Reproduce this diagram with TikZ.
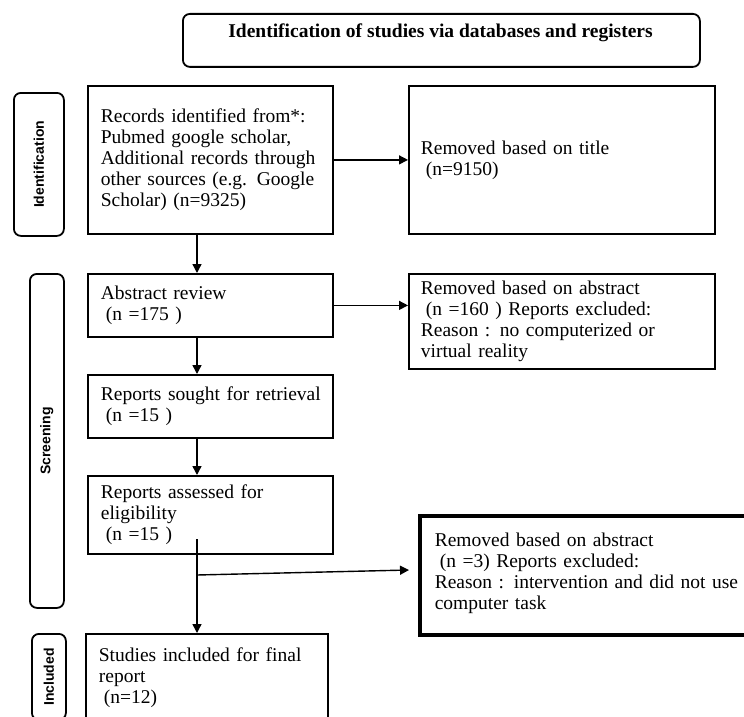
\documentclass[tikz,border=0pt]{standalone}
\usepackage{fontspec}
\setmainfont{Liberation Serif}
\setsansfont{Liberation Sans}
\usetikzlibrary{arrows.meta}

\begin{document}
\begin{tikzpicture}[x=1pt,y=-1pt,
		box/.style={draw, line width=1.8pt, anchor=north west, inner xsep=13pt, inner ysep=0pt, align=left, font=\fontsize{19.5}{21}\selectfont},
		stage/.style={draw, line width=1.8pt, rounded corners=7pt, anchor=north west, inner sep=0pt, font=\sffamily\bfseries\fontsize{14}{16}\selectfont},
		arr/.style={line width=1.4pt, -{Triangle[length=9pt,width=9pt]}}]
				\useasboundingbox (0,0) rectangle (744,717);
				% heading
				\node[stage, minimum width=517pt, minimum height=53pt] (head) at (182,13) {};
				\node[font=\bfseries\fontsize{19.5}{21}\selectfont] (headtext) at (440.5,33) {Identification of studies via databases and registers};
				% stage labels
				\node[stage, minimum width=50pt, minimum height=143pt] (ident) at (13,92) {\rotatebox{90}{Identification}};
				\node[stage, minimum width=34pt, minimum height=334pt] (screen) at (29,273) {\rotatebox{90}{Screening}};
				\node[stage, minimum width=34pt, minimum height=86pt] (incl) at (31,633) {\rotatebox{90}{Included}};
				% main column
				\node[box, minimum width=245pt, minimum height=148pt, text width=219pt] (records) at (87,85)
					{Records identified from*:\\Pubmed google scholar,\\Additional records through\\other sources (e.g. Google\\Scholar) (n=9325)};
				\node[box, minimum width=245pt, minimum height=63pt, text width=219pt] (abstract) at (87,273)
					{Abstract review\\\hspace{5pt}(n =175 )};
				\node[box, minimum width=245pt, minimum height=63pt, text width=219pt] (sought) at (87,374)
					{\mbox{Reports sought for retrieval}\\\hspace{5pt}(n =15 )};
				\node[box, minimum width=245pt, minimum height=78pt, text width=219pt] (assessed) at (87,475)
					{Reports assessed for\\eligibility\\\hspace{5pt}(n =15 )};
				\node[box, minimum width=242pt, minimum height=88pt, text width=216pt] (studies) at (85,633)
					{Studies included for final\\report\\\hspace{5pt}(n=12)};
				% removed
				\node[box, minimum width=306pt, minimum height=148pt, text width=282pt, inner xsep=12pt] (rmtitle) at (408,85)
					{Removed based on title\\\hspace{5pt}(n=9150)};
				\node[box, minimum width=306pt, minimum height=95pt, text width=282pt, inner xsep=12pt] (rmabs) at (408,273)
					{Removed based on abstract\\\hspace{5pt}(n =160 ) Reports excluded:\\Reason : no computerized or\\virtual reality};
				\node[box, line width=3.6pt, minimum width=345pt, minimum height=119pt, text width=315pt, inner xsep=15pt] (rmtask) at (418,514)
					{Removed based on abstract\\\hspace{5pt}(n =3) Reports excluded:\\Reason : intervention and did not use\\computer task\\[-12pt]\mbox{}};
				% arrows
				\coordinate (spine) at (197,0);
				\coordinate (elig) at (197,539);
				\coordinate (split) at (197,575);
				\coordinate (splitend) at (409,570);
				\draw[arr] (records) -- (rmtitle);
				\draw[arr] (abstract.east) -- (abstract.east -| rmabs.west);
				\draw[arr] (records.south -| spine) -- (abstract.north -| spine);
				\draw[arr] (abstract.south -| spine) -- (sought.north -| spine);
				\draw[arr] (sought.south -| spine) -- (assessed.north -| spine);
				\draw[arr] (elig) -- (studies.north -| elig);
				\draw[arr] (split) -- (splitend);
			\end{tikzpicture}
\end{document}
